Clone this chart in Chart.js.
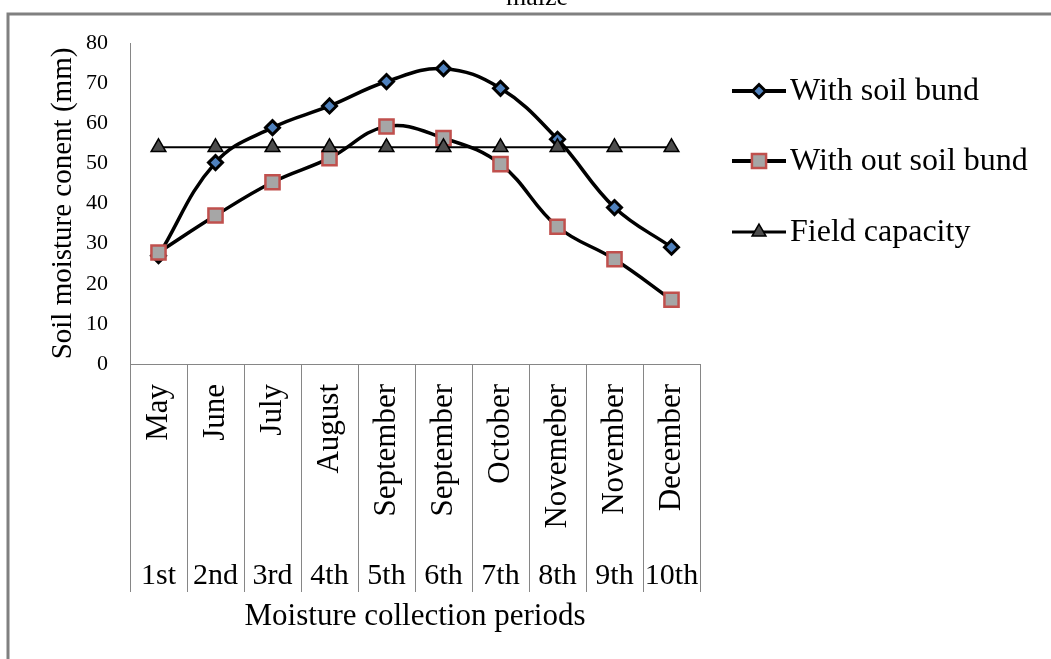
<!DOCTYPE html>
<html lang="en">
<head>
<meta charset="UTF-8">
<title>Soil moisture - maize</title>
<script src="https://cdn.jsdelivr.net/npm/chart.js"></script>
<style>
  html, body { margin: 0; padding: 0; background: #fff; overflow: hidden; }
  canvas { display: block; }
</style>
</head>
<body>
<canvas id="moistureChart" width="1051" height="659"></canvas>
<script>
// data
const months = ['May', 'June', 'July', 'August', 'September', 'September', 'October', 'Novemeber', 'November', 'December'];
const periods = ['1st', '2nd', '3rd', '4th', '5th', '6th', '7th', '8th', '9th', '10th'];
const withBund = [27, 50.2, 58.9, 64.3, 70.4, 73.6, 68.7, 56.0, 39.0, 29.1];
const withoutBund = [27.8, 37.0, 45.3, 51.3, 59.2, 56.3, 49.8, 34.2, 26.1, 16.0];
const fieldCapacity = [54, 54, 54, 54, 54, 54, 54, 54, 54, 54];
const yTicks = [0, 10, 20, 30, 40, 50, 60, 70, 80];

const serif = "'Liberation Serif', 'Times New Roman', serif";
Chart.defaults.font.family = serif;
Chart.defaults.color = '#000';

const axisGrey = '#868686';

// frame, title above it, column separators and the legend
const decorations = {
  id: 'decorations',
  beforeDraw(chart) {
    const ctx = chart.ctx;
    ctx.save();
    ctx.fillStyle = '#fff';
    ctx.fillRect(0, 0, chart.width, chart.height);
    ctx.strokeStyle = '#808080';
    ctx.lineWidth = 3;
    ctx.strokeRect(8, 14, 2000, 2000);
    ctx.fillStyle = '#000';
    ctx.font = '26px ' + serif;
    ctx.textAlign = 'center';
    ctx.textBaseline = 'alphabetic';
    ctx.fillText('maize', 537, 5);
    ctx.restore();
  },
  afterDraw(chart) {
    const ctx = chart.ctx;
    const x = chart.scales.x;
    const x2 = chart.scales.x2;
    const half = (x.getPixelForValue(1) - x.getPixelForValue(0)) / 2;
    ctx.save();
    ctx.strokeStyle = axisGrey;
    ctx.lineWidth = 1;
    for (let i = 0; i <= months.length; i++) {
      const px = Math.round(x.getPixelForValue(i) - half) + 0.5;
      ctx.beginPath();
      ctx.moveTo(px, x.top);
      ctx.lineTo(px, x2.top + 38);
      ctx.stroke();
    }

    // legend: line + marker + label
    const rows = [91, 161, 232];
    chart.data.datasets.forEach((ds, i) => {
      const y = rows[i];
      ctx.strokeStyle = '#000';
      ctx.lineWidth = ds.legendLine;
      ctx.beginPath();
      ctx.moveTo(732, y);
      ctx.lineTo(786, y);
      ctx.stroke();
      ctx.fillStyle = ds.pointBackgroundColor;
      ctx.strokeStyle = ds.pointBorderColor;
      ctx.lineWidth = ds.pointBorderWidth;
      Chart.helpers.drawPoint(ctx, {
        pointStyle: ds.pointStyle,
        radius: ds.legendRadius,
        borderWidth: ds.pointBorderWidth,
        rotation: 0
      }, 759, y);
      ctx.fillStyle = '#000';
      ctx.font = '32px ' + serif;
      ctx.textAlign = 'left';
      ctx.textBaseline = 'middle';
      ctx.fillText(ds.label, 790, y + 1);
    });
    ctx.restore();
  }
};

const ctx = document.getElementById('moistureChart').getContext('2d');
new Chart(ctx, {
  type: 'line',
  data: {
    labels: months,
    datasets: [
      {
        label: 'With soil bund',
        data: withBund,
        borderColor: '#000',
        borderWidth: 3.5,
        tension: 0.4,
        pointStyle: 'rectRot',
        pointRadius: 7,
        pointBackgroundColor: '#4f81bd',
        pointBorderColor: '#000',
        pointBorderWidth: 3,
        legendLine: 4,
        legendRadius: 6.5,
        order: 3
      },
      {
        label: 'With out soil bund',
        data: withoutBund,
        borderColor: '#000',
        borderWidth: 3.5,
        tension: 0.4,
        pointStyle: 'rect',
        pointRadius: 10,
        pointBackgroundColor: '#a6a6a6',
        pointBorderColor: '#c0504d',
        pointBorderWidth: 2.5,
        legendLine: 4,
        legendRadius: 10,
        order: 2
      },
      {
        label: 'Field capacity',
        data: fieldCapacity,
        borderColor: '#000',
        borderWidth: 2,
        tension: 0,
        pointStyle: 'triangle',
        pointRadius: 8.5,
        pointBackgroundColor: '#4d4d4d',
        pointBorderColor: '#000',
        pointBorderWidth: 1.5,
        legendLine: 3,
        legendRadius: 8,
        order: 1
      }
    ]
  },
  options: {
    responsive: false,
    animation: false,
    layout: { padding: { left: 0, right: 351, top: 43, bottom: 0 } },
    plugins: {
      legend: { display: false },
      tooltip: { enabled: false },
      title: { display: false }
    },
    scales: {
      x: {
        type: 'category',
        position: 'bottom',
        offset: true,
        weight: 0,
        grid: { display: false, drawTicks: false },
        border: { display: true, color: axisGrey, width: 1 },
        ticks: {
          autoSkip: false,
          minRotation: 90,
          maxRotation: 90,
          padding: 20,
          font: { size: 31 }
        },
        afterFit(scale) { scale.height = 190; }
      },
      x2: {
        type: 'category',
        labels: periods,
        position: 'bottom',
        offset: true,
        weight: 1,
        grid: { display: false, drawTicks: false },
        border: { display: false },
        ticks: { autoSkip: false, maxRotation: 0, padding: 4, font: { size: 30 } },
        title: {
          display: true,
          text: 'Moisture collection periods',
          font: { size: 31 },
          padding: { top: 0, bottom: 24 }
        },
        afterFit(scale) { scale.height = 105; }
      },
      y: {
        min: 0,
        max: 80,
        afterBuildTicks(scale) { scale.ticks = yTicks.map(v => ({ value: v })); },
        grid: { display: false, drawTicks: false },
        border: { display: true, color: axisGrey, width: 1 },
        ticks: { padding: 22, font: { size: 22 } },
        title: {
          display: true,
          text: 'Soil moisture conent (mm)',
          font: { size: 29 },
          padding: { top: 46, bottom: 0 }
        },
        afterFit(scale) { scale.width = 130; }
      }
    }
  },
  plugins: [decorations]
});
</script>
</body>
</html>
